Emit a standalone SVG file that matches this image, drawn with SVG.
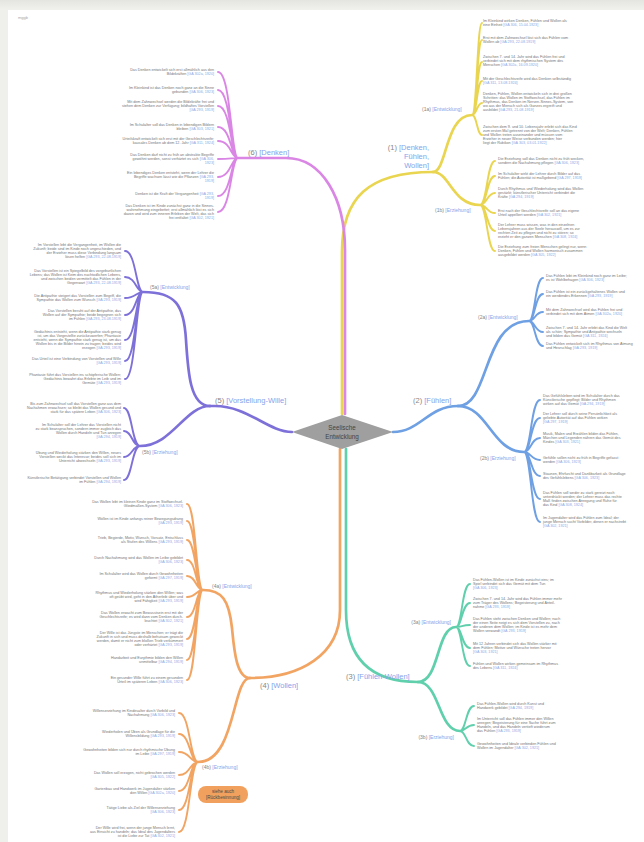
<svg xmlns="http://www.w3.org/2000/svg" width="644" height="842" viewBox="0 0 644 842">
<defs>
<linearGradient id="topg" x1="0" y1="0" x2="0" y2="1"><stop offset="0" stop-color="#e4e4e0"/><stop offset="1" stop-color="#f1f1ee"/></linearGradient>
</defs>
<style>
.c{fill:none;stroke-linecap:round;stroke-linejoin:round}
.m{stroke-width:2.7}
.s{stroke-width:1.9}
.y{stroke:#e9d54f}
.p{stroke:#da86e5}
.v{stroke:#7d71d9}
.b{stroke:#6ea0e3}
.t{stroke:#60d0ac}
.o{stroke:#f2a462}
.lf{font-family:"Liberation Sans",Arial,sans-serif;font-size:3.7px;fill:#747474}
.e{text-anchor:end}
.r{fill:#8ba7e6}
.lb{font-family:"Liberation Sans",Arial,sans-serif;fill:#868686}
.big{font-size:7.5px}
.sm{font-size:5px}
.k{fill:#86a4ea}
</style>
<rect x="0" y="0" width="644" height="842" fill="#efefeb"/>
<rect x="0" y="0" width="644" height="10" fill="url(#topg)"/>
<rect x="8" y="10" width="636" height="832" fill="#ffffff"/>
<text x="18" y="19" font-family="Liberation Sans, sans-serif" font-size="4" fill="#a8a8a8">mggb</text>

<g id="connectors">
<path class="c m y" d="M342,414L342,252C342,198 368,172 433,172"/>
<path class="c m y" d="M433,172C447,172 445,115 472,115"/>
<path class="c m y" d="M433,172C450,172 452,205 480,205"/>
<path class="c m p" d="M345,414L345,250C345,198 322,158 286,158L238,158"/>
<path class="c m v" d="M292,432C268,432 248,406 215,406L210,406"/>
<path class="c m v" d="M210,406C190,406 188,372 186,340C184,305 176,292 143,292"/>
<path class="c m v" d="M210,406C185,406 172,446 140,446"/>
<path class="c m b" d="M393,432C420,432 428,406 458,406"/>
<path class="c m b" d="M458,406C490,406 482,321 529,321"/>
<path class="c m b" d="M458,406C488,406 492,452 524,452"/>
<path class="c m t" d="M346,449L346,610C346,660 372,682 418,682"/>
<path class="c m t" d="M418,682C440,682 436,627 456,627"/>
<path class="c m t" d="M418,682C440,682 438,731 460,731"/>
<path class="c m o" d="M340,449L340,610C340,655 300,678 250,678"/>
<path class="c m o" d="M250,678C236,678 234,648 232,628C229,600 222,590 203,590"/>
<path class="c m o" d="M250,678C232,678 236,762 198,762"/>
<path class="c s y" d="M472,115C477,115 477,23 482,23M472,115C477,115 477,40 482,40M472,115C477,115 477,62 482,62M472,115C477,115 477,81 482,81M472,115C477,115 477,103 482,103M472,115C477,115 477,135 482,135"/>
<path class="c s y" d="M480,205C487,205 487,161 495,161M480,205C487,205 487,176 495,176M480,205C487,205 487,193 495,193M480,205C487,205 487,213 495,213M480,205C487,205 487,231 495,231M480,205C487,205 487,251 495,251"/>
<path class="c s p" d="M238,158C231,158 231,72 218,72M238,158C231,158 231,90 218,90M238,158C231,158 231,106 218,106M238,158C231,158 231,127 218,127M238,158C231,158 231,141 218,141M238,158C231,158 231,159 218,159M238,158C231,158 231,177 218,177M238,158C231,158 231,196 218,196M238,158C231,158 231,212 218,212"/>
<path class="c s v" d="M143,292C136,292 136,251 125,251M143,292C136,292 136,277 125,277M143,292C136,292 136,298 125,298M143,292C136,292 136,315 125,315M143,292C136,292 136,340 125,340M143,292C136,292 136,361 125,361M143,292C136,292 136,379 125,379"/>
<path class="c s v" d="M140,446C132,446 132,408 124,408M140,446C132,446 132,431 124,431M140,446C132,446 132,457 124,457M140,446C132,446 132,480 124,480"/>
<path class="c s o" d="M203,590C196,590 196,504 187,504M203,590C196,590 196,521 187,521M203,590C196,590 196,540 187,540M203,590C196,590 196,560 187,560M203,590C196,590 196,576 187,576M203,590C196,590 196,597 187,597M203,590C196,590 196,617 187,617M203,590C196,590 196,639 187,639M203,590C196,590 196,660 187,660M203,590C196,590 196,680 187,680"/>
<path class="c s o" d="M198,762C190,762 190,713 179,713M198,762C190,762 190,734 179,734M198,762C190,762 190,752 179,752M198,762C190,762 190,775 179,775M198,762C190,762 190,791 179,791M198,762C190,762 190,810 179,810M198,762C190,762 190,832 179,832"/>
<path class="c s b" d="M529,321C535,321 535,278 543,278M529,321C535,321 535,294 543,294M529,321C535,321 535,312 543,312M529,321C535,321 535,332 543,332M529,321C535,321 535,346 543,346"/>
<path class="c s b" d="M524,452C531,452 531,400 540,400M524,452C531,452 531,418 540,418M524,452C531,452 531,438 540,438M524,452C531,452 531,460 540,460M524,452C531,452 531,476 540,476M524,452C531,452 531,499 540,499M524,452C531,452 531,522 540,522"/>
<path class="c s t" d="M456,627C462,627 462,584 470,584M456,627C462,627 462,603 470,603M456,627C462,627 462,625 470,625M456,627C462,627 462,648 470,648M456,627C462,627 462,666 470,666"/>
<path class="c s t" d="M460,731C466,731 466,706 474,706M460,731C466,731 466,725 474,725M460,731C466,731 466,746 474,746"/>
</g>

<g id="center">
<polygon points="292,432 342,415 393,432 342,449" fill="#9f9f9f"/>
<text x="342" y="430" text-anchor="middle" font-family="Liberation Sans, sans-serif" font-size="6.3" fill="#444">Seelische</text>
<text x="342" y="439" text-anchor="middle" font-family="Liberation Sans, sans-serif" font-size="6.3" fill="#444">Entwicklung</text>
</g>

<g id="b1"><text class="lb big e"><tspan x="429" y="150">(1) <tspan class="k">[Denken,</tspan></tspan><tspan class="k" x="429" y="159">Fühlen,</tspan><tspan class="k" x="429" y="168">Wollen]</tspan></text></g>
<g id="b6"><text class="lb big" x="248" y="155">(6) <tspan class="k">[Denken]</tspan></text></g>
<g id="b5"><text class="lb big" x="215" y="403">(5) <tspan class="k">[Vorstellung-Wille]</tspan></text></g>
<g id="b2"><text class="lb big" x="413" y="403">(2) <tspan class="k">[Fühlen]</tspan></text></g>
<g id="b3"><text class="lb big" x="346" y="679">(3) <tspan class="k">[Fühlen-Wollen]</tspan></text></g>
<g id="b4"><text class="lb big" x="260" y="688">(4) <tspan class="k">[Wollen]</tspan></text></g>

<g id="b1a"><text class="lb sm" x="422" y="111">(1a) <tspan class="k">[Entwicklung]</tspan></text></g>
<g id="b1b"><text class="lb sm" x="435" y="212">(1b) <tspan class="k">[Erziehung]</tspan></text></g>
<g id="b2a"><text class="lb sm" x="478" y="319">(2a) <tspan class="k">[Entwicklung]</tspan></text></g>
<g id="b2b"><text class="lb sm" x="480" y="460">(2b) <tspan class="k">[Erziehung]</tspan></text></g>
<g id="b3a"><text class="lb sm e" x="451" y="624">(3a) <tspan class="k">[Entwicklung]</tspan></text></g>
<g id="b3b"><text class="lb sm e" x="454" y="739">(3b) <tspan class="k">[Erziehung]</tspan></text></g>
<g id="b4a"><text class="lb sm" x="212" y="588">(4a) <tspan class="k">[Entwicklung]</tspan></text></g>
<g id="b4b"><text class="lb sm" x="202" y="769">(4b) <tspan class="k">[Erziehung]</tspan></text></g>
<g id="b5a"><text class="lb sm" x="150" y="289">(5a) <tspan class="k">[Entwicklung]</tspan></text></g>
<g id="b5b"><text class="lb sm" x="142" y="454">(5b) <tspan class="k">[Erziehung]</tspan></text></g>

<g id="seealso">
<rect x="198" y="786" width="50" height="17" rx="8" fill="#f1a15d"/>
<text x="223" y="793" text-anchor="middle" font-family="Liberation Sans, sans-serif" font-size="4.6" fill="#4a4a4a">siehe auch</text>
<text x="223" y="799" text-anchor="middle" font-family="Liberation Sans, sans-serif" font-size="4.6" fill="#4a4a4a">[Rückbesinnung]</text>
</g>

<g id="l1a1"><text class="lf"><tspan x="483" y="22">Im Kleinkind wirken Denken, Fühlen und Wollen als</tspan><tspan x="483" y="26">eine Einheit <tspan class="r">[GA 306, 15.04.1923]</tspan></tspan></text></g>
<g id="l1a2"><text class="lf"><tspan x="483" y="39">Erst mit dem Zahnwechsel löst sich das Fühlen vom</tspan><tspan x="483" y="43">Wollen ab <tspan class="r">[GA 293, 22.08.1919]</tspan></tspan></text></g>
<g id="l1a3"><text class="lf"><tspan x="483" y="58">Zwischen 7. und 14. Jahr wird das Fühlen frei und</tspan><tspan x="483" y="62">verbindet sich mit dem rhythmischen System des</tspan><tspan x="483" y="66">Menschen <tspan class="r">[GA 302a, 16.09.1920]</tspan></tspan></text></g>
<g id="l1a4"><text class="lf"><tspan x="483" y="80">Mit der Geschlechtsreife wird das Denken selbständig</tspan><tspan x="483" y="84" class="r">[GA 311, 13.08.1924]</tspan></text></g>
<g id="l1a5"><text class="lf"><tspan x="483" y="95">Denken, Fühlen, Wollen entwickeln sich in drei großen</tspan><tspan x="483" y="99">Schritten: das Wollen im Stoffwechsel, das Fühlen im</tspan><tspan x="483" y="103">Rhythmus, das Denken im Nerven-Sinnes-System, von</tspan><tspan x="483" y="107">wo aus der Mensch sich als Ganzes ergreift und</tspan><tspan x="483" y="111">ausbildet <tspan class="r">[GA 293, 21.08.1919]</tspan></tspan></text></g>
<g id="l1a6"><text class="lf"><tspan x="483" y="128">Zwischen dem 9. und 10. Lebensjahr erlebt sich das Kind</tspan><tspan x="483" y="132">zum ersten Mal getrennt von der Welt; Denken, Fühlen</tspan><tspan x="483" y="136">und Wollen treten auseinander und müssen vom</tspan><tspan x="483" y="140">Erzieher in neuer Weise verbunden werden; hier</tspan><tspan x="483" y="144">liegt der Rubikon <tspan class="r">[GA 303, 03.01.1922]</tspan></tspan></text></g>

<g id="l1b1"><text class="lf"><tspan x="498" y="160">Die Erziehung soll das Denken nicht zu früh wecken,</tspan><tspan x="498" y="164">sondern die Nachahmung pflegen <tspan class="r">[GA 306, 1923]</tspan></tspan></text></g>
<g id="l1b2"><text class="lf"><tspan x="498" y="175">Im Schulalter wirkt der Lehrer durch Bilder auf das</tspan><tspan x="498" y="179">Fühlen; die Autorität ist maßgebend <tspan class="r">[GA 297, 1919]</tspan></tspan></text></g>
<g id="l1b3"><text class="lf"><tspan x="498" y="190">Durch Rhythmus und Wiederholung wird das Wollen</tspan><tspan x="498" y="194">gestärkt; künstlerischer Unterricht verbindet die</tspan><tspan x="498" y="198">Kräfte <tspan class="r">[GA 294, 1919]</tspan></tspan></text></g>
<g id="l1b4"><text class="lf"><tspan x="498" y="212">Erst nach der Geschlechtsreife soll an das eigene</tspan><tspan x="498" y="216">Urteil appelliert werden <tspan class="r">[GA 302, 1921]</tspan></tspan></text></g>
<g id="l1b5"><text class="lf"><tspan x="498" y="226">Der Lehrer muss wissen, was in den einzelnen</tspan><tspan x="498" y="230">Lebensjahren aus der Seele herauswill, um es zur</tspan><tspan x="498" y="234">rechten Zeit zu pflegen und nicht zu stören; so</tspan><tspan x="498" y="238">erzieht er den ganzen Menschen <tspan class="r">[GA 308, 1924]</tspan></tspan></text></g>
<g id="l1b6"><text class="lf"><tspan x="498" y="248">Die Erziehung zum freien Menschen gelingt nur, wenn</tspan><tspan x="498" y="252">Denken, Fühlen und Wollen harmonisch zusammen</tspan><tspan x="498" y="256">ausgebildet werden <tspan class="r">[GA 305, 1922]</tspan></tspan></text></g>

<g id="l61"><text class="lf e"><tspan x="214" y="71">Das Denken entwickelt sich erst allmählich aus den</tspan><tspan x="214" y="75">Bildekräften <tspan class="r">[GA 302a, 1920]</tspan></tspan></text></g>
<g id="l62"><text class="lf e"><tspan x="214" y="89">Im Kleinkind ist das Denken noch ganz an die Sinne</tspan><tspan x="214" y="93">gebunden <tspan class="r">[GA 306, 1923]</tspan></tspan></text></g>
<g id="l63"><text class="lf e"><tspan x="214" y="103">Mit dem Zahnwechsel werden die Bildekräfte frei und</tspan><tspan x="214" y="107">stehen dem Denken zur Verfügung; bildhaftes Vorstellen</tspan><tspan x="214" y="111" class="r">[GA 293, 1919]</tspan></text></g>
<g id="l64"><text class="lf e"><tspan x="214" y="126">Im Schulalter soll das Denken in lebendigen Bildern</tspan><tspan x="214" y="130">bleiben <tspan class="r">[GA 303, 1921]</tspan></tspan></text></g>
<g id="l65"><text class="lf e"><tspan x="214" y="140">Urteilskraft entwickelt sich erst mit der Geschlechtsreife;</tspan><tspan x="214" y="144">kausales Denken ab dem 12. Jahr <tspan class="r">[GA 311, 1924]</tspan></tspan></text></g>
<g id="l66"><text class="lf e"><tspan x="214" y="156">Das Denken darf nicht zu früh an abstrakte Begriffe</tspan><tspan x="214" y="160">gewöhnt werden, sonst verhärtet es sich <tspan class="r">[GA 306,</tspan></tspan><tspan x="214" y="164" class="r">1923]</tspan></text></g>
<g id="l67"><text class="lf e"><tspan x="214" y="174">Ein lebendiges Denken entsteht, wenn der Lehrer die</tspan><tspan x="214" y="178">Begriffe wachsen lässt wie die Pflanzen <tspan class="r">[GA 293,</tspan></tspan><tspan x="214" y="182" class="r">1919]</tspan></text></g>
<g id="l68"><text class="lf e"><tspan x="214" y="195">Denken ist die Kraft der Vergangenheit <tspan class="r">[GA 293,</tspan></tspan><tspan x="214" y="199" class="r">1919]</tspan></text></g>
<g id="l69"><text class="lf e"><tspan x="214" y="207">Das Denken ist im Kinde zunächst ganz in die Sinnes-</tspan><tspan x="214" y="211">wahrnehmung eingebettet; erst allmählich löst es sich</tspan><tspan x="214" y="215">davon und wird zum inneren Erleben der Welt, das sich</tspan><tspan x="214" y="219">frei entfaltet <tspan class="r">[GA 302, 1921]</tspan></tspan></text></g>

<g id="l5a1"><text class="lf e"><tspan x="121" y="246">Im Vorstellen lebt die Vergangenheit, im Wollen die</tspan><tspan x="121" y="250">Zukunft; beide sind im Kinde noch ungeschieden, und</tspan><tspan x="121" y="254">der Erzieher muss diese Verbindung langsam</tspan><tspan x="121" y="258">lösen helfen <tspan class="r">[GA 293, 22.08.1919]</tspan></tspan></text></g>
<g id="l5a2"><text class="lf e"><tspan x="121" y="272">Das Vorstellen ist ein Spiegelbild des vorgeburtlichen</tspan><tspan x="121" y="276">Lebens; das Wollen ist Keim des nachtodlichen Lebens,</tspan><tspan x="121" y="280">und zwischen beiden vermittelt das Fühlen in der</tspan><tspan x="121" y="284">Gegenwart <tspan class="r">[GA 293, 22.08.1919]</tspan></tspan></text></g>
<g id="l5a3"><text class="lf e"><tspan x="121" y="297">Die Antipathie steigert das Vorstellen zum Begriff, die</tspan><tspan x="121" y="301">Sympathie das Wollen zum Wunsch <tspan class="r">[GA 293, 1919]</tspan></tspan></text></g>
<g id="l5a4"><text class="lf e"><tspan x="121" y="312">Das Vorstellen beruht auf der Antipathie, das</tspan><tspan x="121" y="316">Wollen auf der Sympathie; beide begegnen sich</tspan><tspan x="121" y="320">im Fühlen <tspan class="r">[GA 293, 23.08.1919]</tspan></tspan></text></g>
<g id="l5a5"><text class="lf e"><tspan x="121" y="333">Gedächtnis entsteht, wenn die Antipathie stark genug</tspan><tspan x="121" y="337">ist, um das Vorgestellte zurückzuwerfen; Phantasie</tspan><tspan x="121" y="341">entsteht, wenn die Sympathie stark genug ist, um das</tspan><tspan x="121" y="345">Wollen bis in die Bilder hinein zu tragen; beides wird</tspan><tspan x="121" y="349">erzogen <tspan class="r">[GA 293, 1919]</tspan></tspan></text></g>
<g id="l5a6"><text class="lf e"><tspan x="121" y="360">Das Urteil ist eine Verbindung von Vorstellen und Wille</tspan><tspan x="121" y="364" class="r">[GA 293, 1919]</tspan></text></g>
<g id="l5a7"><text class="lf e"><tspan x="121" y="376">Phantasie führt das Vorstellen ins schöpferische Wollen;</tspan><tspan x="121" y="380">Gedächtnis bewahrt das Erlebte im Leib und im</tspan><tspan x="121" y="384">Gemüte <tspan class="r">[GA 293, 1919]</tspan></tspan></text></g>

<g id="l5b1"><text class="lf e"><tspan x="121" y="405">Bis zum Zahnwechsel soll das Vorstellen ganz aus dem</tspan><tspan x="121" y="409">Nachahmen erwachsen; so bleibt das Wollen gesund und</tspan><tspan x="121" y="413">stark für das spätere Leben <tspan class="r">[GA 306, 1923]</tspan></tspan></text></g>
<g id="l5b2"><text class="lf e"><tspan x="121" y="426">Im Schulalter soll der Lehrer das Vorstellen nicht</tspan><tspan x="121" y="430">zu stark beanspruchen, sondern immer zugleich das</tspan><tspan x="121" y="434">Wollen durch Handeln und Tun anregen</tspan><tspan x="121" y="438" class="r">[GA 294, 1919]</tspan></text></g>
<g id="l5b3"><text class="lf e"><tspan x="121" y="454">Übung und Wiederholung stärken den Willen, neues</tspan><tspan x="121" y="458">Vorstellen weckt das Interesse; beides soll sich im</tspan><tspan x="121" y="462">Unterricht abwechseln <tspan class="r">[GA 293, 1919]</tspan></tspan></text></g>
<g id="l5b4"><text class="lf e"><tspan x="121" y="479">Künstlerische Betätigung verbindet Vorstellen und Wollen</tspan><tspan x="121" y="483">im Fühlen <tspan class="r">[GA 294, 1919]</tspan></tspan></text></g>

<g id="l4a1"><text class="lf e"><tspan x="183" y="503">Das Wollen lebt im kleinen Kinde ganz im Stoffwechsel-</tspan><tspan x="183" y="507">Gliedmaßen-System <tspan class="r">[GA 306, 1923]</tspan></tspan></text></g>
<g id="l4a2"><text class="lf e"><tspan x="183" y="520">Wollen ist im Kinde anfangs reiner Bewegungsdrang</tspan><tspan x="183" y="524" class="r">[GA 293, 1919]</tspan></text></g>
<g id="l4a3"><text class="lf e"><tspan x="183" y="539">Trieb, Begierde, Motiv, Wunsch, Vorsatz, Entschluss</tspan><tspan x="183" y="543">als Stufen des Willens <tspan class="r">[GA 293, 1919]</tspan></tspan></text></g>
<g id="l4a4"><text class="lf e"><tspan x="183" y="559">Durch Nachahmung wird das Wollen im Leibe gebildet</tspan><tspan x="183" y="563" class="r">[GA 306, 1923]</tspan></text></g>
<g id="l4a5"><text class="lf e"><tspan x="183" y="575">Im Schulalter wird das Wollen durch Gewohnheiten</tspan><tspan x="183" y="579">geformt <tspan class="r">[GA 297, 1919]</tspan></tspan></text></g>
<g id="l4a6"><text class="lf e"><tspan x="183" y="594">Rhythmus und Wiederholung stärken den Willen; was</tspan><tspan x="183" y="598">oft geübt wird, geht in den Ätherleib über und</tspan><tspan x="183" y="602">wird Fähigkeit <tspan class="r">[GA 293, 1919]</tspan></tspan></text></g>
<g id="l4a7"><text class="lf e"><tspan x="183" y="614">Das Wollen erwacht zum Bewusstsein erst mit der</tspan><tspan x="183" y="618">Geschlechtsreife; es wird dann vom Denken durch-</tspan><tspan x="183" y="622">leuchtet <tspan class="r">[GA 302, 1921]</tspan></tspan></text></g>
<g id="l4a8"><text class="lf e"><tspan x="183" y="634">Der Wille ist das Jüngste im Menschen; er trägt die</tspan><tspan x="183" y="638">Zukunft in sich und muss deshalb behutsam geweckt</tspan><tspan x="183" y="642">werden, damit er nicht zum bloßen Trieb verkümmert</tspan><tspan x="183" y="646">oder verhärtet <tspan class="r">[GA 293, 1919]</tspan></tspan></text></g>
<g id="l4a9"><text class="lf e"><tspan x="183" y="659">Handarbeit und Eurythmie bilden den Willen</tspan><tspan x="183" y="663">unmittelbar <tspan class="r">[GA 294, 1919]</tspan></tspan></text></g>
<g id="l4a10"><text class="lf e"><tspan x="183" y="679">Ein gesunder Wille führt zu einem gesunden</tspan><tspan x="183" y="683">Urteil im späteren Leben <tspan class="r">[GA 306, 1923]</tspan></tspan></text></g>

<g id="l4b1"><text class="lf e"><tspan x="175" y="712">Willenserziehung im Kindesalter durch Vorbild und</tspan><tspan x="175" y="716">Nachahmung <tspan class="r">[GA 306, 1923]</tspan></tspan></text></g>
<g id="l4b2"><text class="lf e"><tspan x="175" y="733">Wiederholen und Üben als Grundlage für die</tspan><tspan x="175" y="737">Willensbildung <tspan class="r">[GA 293, 1919]</tspan></tspan></text></g>
<g id="l4b3"><text class="lf e"><tspan x="175" y="751">Gewohnheiten bilden sich nur durch rhythmische Übung</tspan><tspan x="175" y="755">im Leibe <tspan class="r">[GA 297, 1919]</tspan></tspan></text></g>
<g id="l4b4"><text class="lf e"><tspan x="175" y="774">Das Wollen soll erzogen, nicht gebrochen werden</tspan><tspan x="175" y="778" class="r">[GA 305, 1922]</tspan></text></g>
<g id="l4b5"><text class="lf e"><tspan x="175" y="790">Gartenbau und Handwerk im Jugendalter stärken</tspan><tspan x="175" y="794">den Willen <tspan class="r">[GA 302a, 1920]</tspan></tspan></text></g>
<g id="l4b6"><text class="lf e"><tspan x="175" y="809">Tätige Liebe als Ziel der Willenserziehung</tspan><tspan x="175" y="813" class="r">[GA 306, 1923]</tspan></text></g>
<g id="l4b7"><text class="lf e"><tspan x="175" y="829">Der Wille wird frei, wenn der junge Mensch lernt,</tspan><tspan x="175" y="833">aus Einsicht zu handeln; das Ideal des Jugendalters</tspan><tspan x="175" y="837">ist die Liebe zur Tat <tspan class="r">[GA 302, 1921]</tspan></tspan></text></g>

<g id="l2a1"><text class="lf"><tspan x="546" y="277">Das Fühlen lebt im Kleinkind noch ganz im Leibe;</tspan><tspan x="546" y="281">es ist Wohlbehagen <tspan class="r">[GA 306, 1923]</tspan></tspan></text></g>
<g id="l2a2"><text class="lf"><tspan x="546" y="293">Das Fühlen ist ein zurückgehaltenes Wollen und</tspan><tspan x="546" y="297">ein werdendes Erkennen <tspan class="r">[GA 293, 1919]</tspan></tspan></text></g>
<g id="l2a3"><text class="lf"><tspan x="546" y="311">Mit dem Zahnwechsel wird das Fühlen frei und</tspan><tspan x="546" y="315">verbindet sich mit dem Atmen <tspan class="r">[GA 302a, 1920]</tspan></tspan></text></g>
<g id="l2a4"><text class="lf"><tspan x="546" y="329">Zwischen 7. und 14. Jahr erlebt das Kind die Welt</tspan><tspan x="546" y="333">als schön; Sympathie und Antipathie wechseln</tspan><tspan x="546" y="337">und bilden das Gemüt <tspan class="r">[GA 311, 1924]</tspan></tspan></text></g>
<g id="l2a5"><text class="lf"><tspan x="546" y="345">Das Fühlen entwickelt sich im Rhythmus von Atmung</tspan><tspan x="546" y="349">und Herzschlag <tspan class="r">[GA 293, 1919]</tspan></tspan></text></g>

<g id="l2b1"><text class="lf"><tspan x="543" y="397">Das Gefühlsleben wird im Schulalter durch das</tspan><tspan x="543" y="401">Künstlerische gepflegt; Bilder und Rhythmen</tspan><tspan x="543" y="405">wirken auf das Gemüt <tspan class="r">[GA 294, 1919]</tspan></tspan></text></g>
<g id="l2b2"><text class="lf"><tspan x="543" y="415">Der Lehrer soll durch seine Persönlichkeit als</tspan><tspan x="543" y="419">geliebte Autorität auf das Fühlen wirken</tspan><tspan x="543" y="423" class="r">[GA 297, 1919]</tspan></text></g>
<g id="l2b3"><text class="lf"><tspan x="543" y="435">Musik, Malen und Erzählen bilden das Fühlen,</tspan><tspan x="543" y="439">Märchen und Legenden nähren das Gemüt des</tspan><tspan x="543" y="443">Kindes <tspan class="r">[GA 303, 1921]</tspan></tspan></text></g>
<g id="l2b4"><text class="lf"><tspan x="543" y="459">Gefühle sollen nicht zu früh in Begriffe gefasst</tspan><tspan x="543" y="463">werden <tspan class="r">[GA 306, 1923]</tspan></tspan></text></g>
<g id="l2b5"><text class="lf"><tspan x="543" y="475">Staunen, Ehrfurcht und Dankbarkeit als Grundlage</tspan><tspan x="543" y="479">des Gefühlslebens <tspan class="r">[GA 306, 1923]</tspan></tspan></text></g>
<g id="l2b6"><text class="lf"><tspan x="543" y="494">Das Fühlen soll weder zu stark gereizt noch</tspan><tspan x="543" y="498">unterdrückt werden; der Lehrer muss das rechte</tspan><tspan x="543" y="502">Maß finden zwischen Anregung und Ruhe für</tspan><tspan x="543" y="506">das Kind <tspan class="r">[GA 308, 1924]</tspan></tspan></text></g>
<g id="l2b7"><text class="lf"><tspan x="543" y="519">Im Jugendalter wird das Fühlen zum Ideal; der</tspan><tspan x="543" y="523">junge Mensch sucht Vorbilder, denen er nachstrebt</tspan><tspan x="543" y="527" class="r">[GA 302, 1921]</tspan></text></g>

<g id="l3a1"><text class="lf"><tspan x="473" y="581">Das Fühlen-Wollen ist im Kinde zunächst eins; im</tspan><tspan x="473" y="585">Spiel verbindet sich das Gemüt mit dem Tun</tspan><tspan x="473" y="589" class="r">[GA 306, 1923]</tspan></text></g>
<g id="l3a2"><text class="lf"><tspan x="473" y="600">Zwischen 7. und 14. Jahr wird das Fühlen immer mehr</tspan><tspan x="473" y="604">zum Träger des Wollens; Begeisterung und Anteil-</tspan><tspan x="473" y="608">nahme <tspan class="r">[GA 293, 1919]</tspan></tspan></text></g>
<g id="l3a3"><text class="lf"><tspan x="473" y="620">Das Fühlen steht zwischen Denken und Wollen; nach</tspan><tspan x="473" y="624">der einen Seite neigt es sich dem Vorstellen zu, nach</tspan><tspan x="473" y="628">der anderen dem Wollen; im Kinde ist es mehr dem</tspan><tspan x="473" y="632">Wollen verwandt <tspan class="r">[GA 293, 1919]</tspan></tspan></text></g>
<g id="l3a4"><text class="lf"><tspan x="473" y="645">Mit 12 Jahren verbindet sich das Wollen stärker mit</tspan><tspan x="473" y="649">dem Fühlen; Motive und Wünsche treten hervor</tspan><tspan x="473" y="653" class="r">[GA 303, 1921]</tspan></text></g>
<g id="l3a5"><text class="lf"><tspan x="473" y="665">Fühlen und Wollen wirken gemeinsam im Rhythmus</tspan><tspan x="473" y="669">des Lebens <tspan class="r">[GA 311, 1924]</tspan></tspan></text></g>

<g id="l3b1"><text class="lf"><tspan x="477" y="705">Das Fühlen-Wollen wird durch Kunst und</tspan><tspan x="477" y="709">Handwerk gebildet <tspan class="r">[GA 294, 1919]</tspan></tspan></text></g>
<g id="l3b2"><text class="lf"><tspan x="477" y="720">Im Unterricht soll das Fühlen immer den Willen</tspan><tspan x="477" y="724">anregen; Begeisterung für eine Sache führt zum</tspan><tspan x="477" y="728">Handeln, und das Handeln vertieft wiederum</tspan><tspan x="477" y="732">das Fühlen <tspan class="r">[GA 293, 1919]</tspan></tspan></text></g>
<g id="l3b3"><text class="lf"><tspan x="477" y="745">Gewohnheiten und Ideale verbinden Fühlen und</tspan><tspan x="477" y="749">Wollen im Jugendalter <tspan class="r">[GA 302, 1921]</tspan></tspan></text></g>
</svg>
